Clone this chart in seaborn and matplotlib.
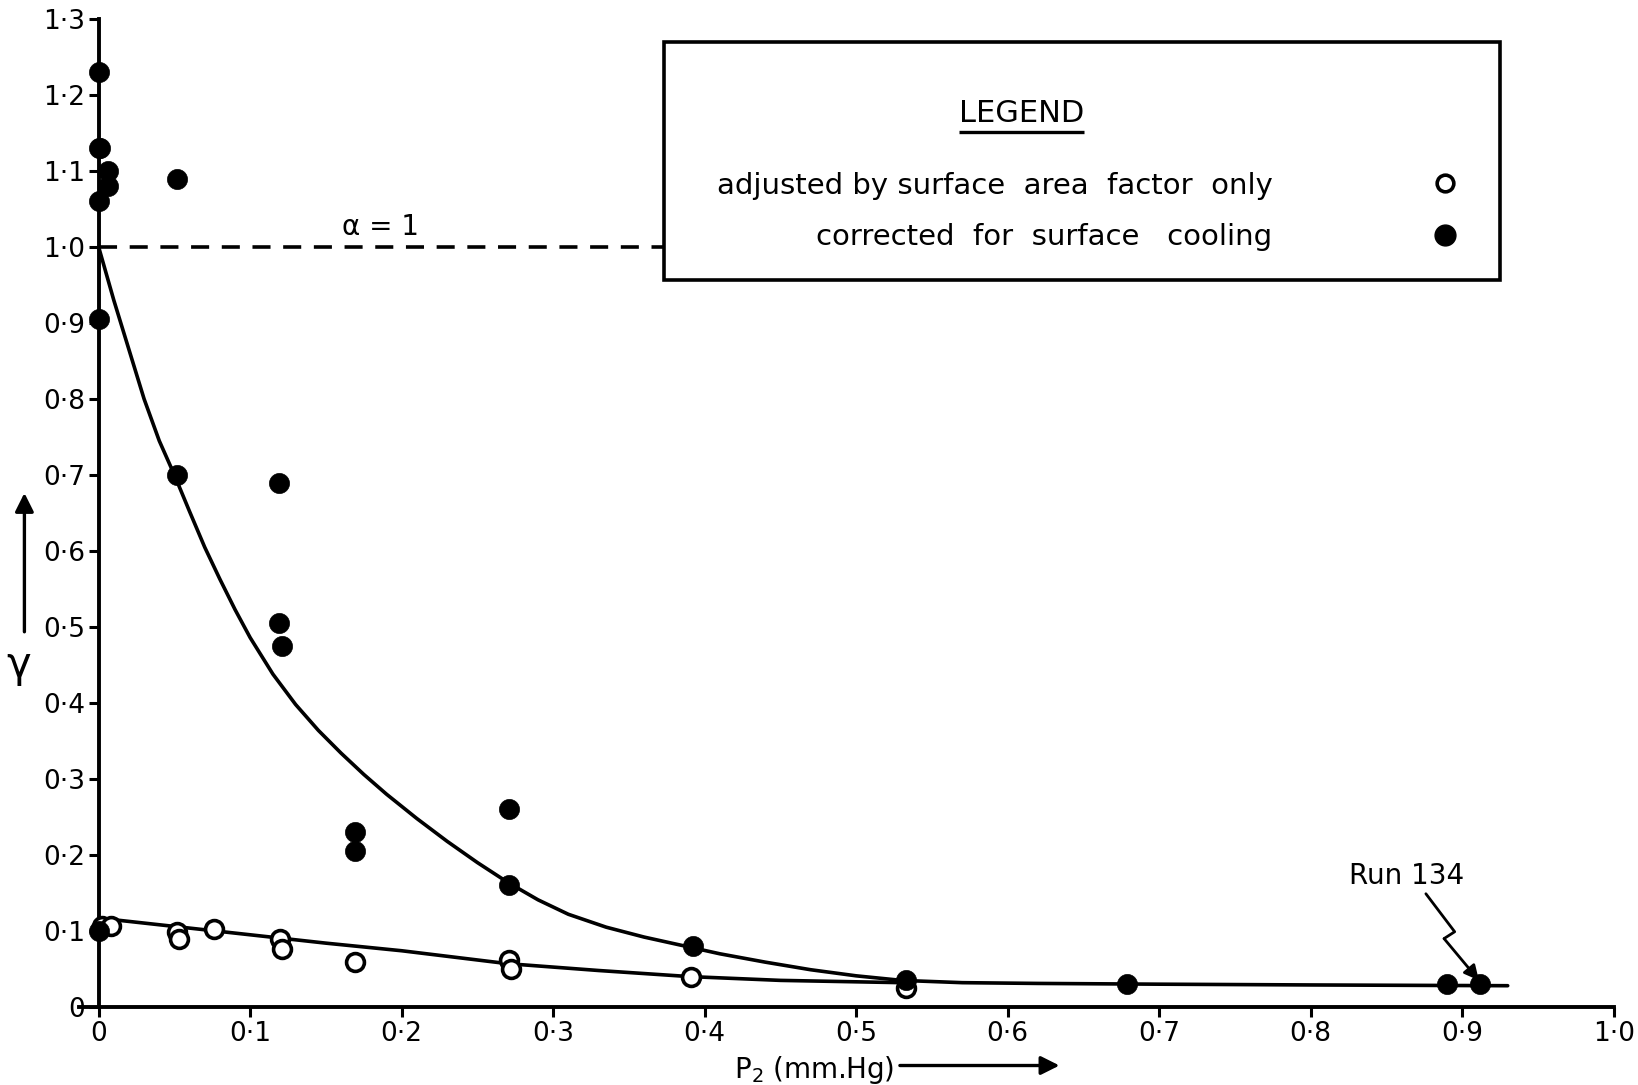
import matplotlib
matplotlib.use("Agg")
import matplotlib.pyplot as plt
import seaborn as sns
from matplotlib.patches import Rectangle
from matplotlib.lines import Line2D

# ---------------- data ----------------
# adjusted by surface area factor only (open circles)
adj_x = [0.002, 0.008, 0.052, 0.053, 0.076, 0.120, 0.121, 0.169, 0.271, 0.272, 0.391, 0.533]
adj_y = [0.107, 0.106, 0.099, 0.089, 0.103, 0.089, 0.076, 0.059, 0.062, 0.050, 0.040, 0.025]

# corrected for surface cooling (filled circles)
cor_x = [0.0, 0.0, 0.001, 0.006, 0.006, 0.0, 0.052, 0.0, 0.052, 0.119, 0.119, 0.121,
         0.169, 0.169, 0.271, 0.271, 0.392, 0.533, 0.679, 0.890, 0.912, 0.0]
cor_y = [1.23, 1.13, 1.13, 1.10, 1.08, 1.06, 1.09, 0.905, 0.70, 0.69, 0.505, 0.475,
         0.23, 0.205, 0.26, 0.16, 0.08, 0.035, 0.03, 0.03, 0.03, 0.10]

# hand-drawn curve through corrected points
cor_fit_x = [0.0, 0.01, 0.02, 0.03, 0.04, 0.05, 0.06, 0.07, 0.08, 0.09, 0.10, 0.115,
             0.13, 0.145, 0.16, 0.175, 0.19, 0.21, 0.23, 0.25, 0.27, 0.29, 0.31, 0.335,
             0.36, 0.385, 0.41, 0.44, 0.47, 0.50, 0.53, 0.57, 0.62, 0.70, 0.80, 0.93]
cor_fit_y = [1.0, 0.93, 0.865, 0.80, 0.745, 0.70, 0.652, 0.605, 0.563, 0.523, 0.486, 0.438,
             0.398, 0.364, 0.334, 0.306, 0.280, 0.248, 0.218, 0.190, 0.164, 0.141, 0.122, 0.105,
             0.092, 0.081, 0.070, 0.059, 0.049, 0.041, 0.035, 0.032, 0.031, 0.030, 0.029, 0.028]

# hand-drawn line through adjusted points
adj_fit_x = [0.0, 0.05, 0.1, 0.15, 0.2, 0.27, 0.33, 0.39, 0.45, 0.53]
adj_fit_y = [0.117, 0.106, 0.095, 0.084, 0.074, 0.057, 0.048, 0.040, 0.035, 0.032]

x_ticks = [0.0, 0.1, 0.2, 0.3, 0.4, 0.5, 0.6, 0.7, 0.8, 0.9, 1.0]
x_tick_labels = ["0", "0·1", "0·2", "0·3", "0·4", "0·5", "0·6", "0·7", "0·8", "0·9", "1·0"]
y_ticks = [0.0, 0.1, 0.2, 0.3, 0.4, 0.5, 0.6, 0.7, 0.8, 0.9, 1.0, 1.1, 1.2, 1.3]
y_tick_labels = ["0", "0·1", "0·2", "0·3", "0·4", "0·5", "0·6", "0·7", "0·8", "0·9",
                 "1·0", "1·1", "1·2", "1·3"]

alpha_ref = 1.0
legend_labels = ["adjusted by surface  area  factor  only", "corrected  for  surface   cooling"]

# Run 134 pointer path (annotation)
run_path_x = [0.876, 0.895, 0.888]
run_path_y = [0.149, 0.099, 0.090]
run_target = (0.911, 0.035)

# ---------------- style ----------------
sns.set_style("ticks", {"text.color": "black", "axes.labelcolor": "black",
                        "xtick.color": "black", "ytick.color": "black",
                        "axes.edgecolor": "black"})
plt.rcParams['font.family'] = ['DejaVu Sans']

fig = plt.figure(figsize=(16.38, 10.85), dpi=100)
ax = fig.add_axes([0.0482, 0.0719, 0.937, 0.9106])

# curves
sns.lineplot(x=cor_fit_x, y=cor_fit_y, ax=ax, color='black', lw=2.6,
             sort=False, estimator=None, zorder=3)
sns.lineplot(x=adj_fit_x, y=adj_fit_y, ax=ax, color='black', lw=2.6,
             sort=False, estimator=None, zorder=3)

# points
sns.scatterplot(x=adj_x, y=adj_y, ax=ax, marker='o', s=165, facecolor='white',
                edgecolor='black', linewidth=2.6, zorder=4, clip_on=False)
sns.scatterplot(x=cor_x, y=cor_y, ax=ax, marker='o', s=210, color='black',
                edgecolor='black', linewidth=0.5, zorder=5, clip_on=False)

ax.set_xlim(-0.013, 1.0)
ax.set_ylim(0, 1.3)

for s in ['top', 'right']:
    ax.spines[s].set_visible(False)
ax.spines['left'].set_position(('data', 0))
ax.spines['left'].set_linewidth(2.8)
ax.spines['bottom'].set_linewidth(2.8)

ax.set_xticks(x_ticks)
ax.set_xticklabels(x_tick_labels)
ax.set_yticks(y_ticks)
ax.set_yticklabels(y_tick_labels)
ax.tick_params(axis='both', direction='out', length=7, width=2.2, labelsize=19,
               colors='black', pad=3)
ax.set_xlabel("")
ax.set_ylabel("")

# legend box
box_left, box_bottom, box_right, box_top = 0.373, 0.956, 0.925, 1.27
ax.add_patch(Rectangle((box_left, box_bottom), box_right - box_left, box_top - box_bottom,
                       facecolor='white', edgecolor='black', lw=2.6, zorder=6))
# alpha = 1 dashed reference line
ax.hlines(alpha_ref, 0, box_left, colors='black', lw=2.6, linestyles=(0, (5, 3.5)), zorder=2)
ax.text(0.186, 1.026, "α = 1", ha='center', va='center', fontsize=20, zorder=7)

title = ax.text(0.609, 1.175, "LEGEND", ha='center', va='center', fontsize=22, zorder=7)

handles = [Line2D([], [], marker='o', ls='none', mfc='white', mec='black', mew=2.6, ms=12),
           Line2D([], [], marker='o', ls='none', mfc='black', mec='black', ms=15)]
leg = ax.legend(handles=handles, labels=legend_labels, markerfirst=False, frameon=False,
                loc='center right', bbox_to_anchor=(0.898, 1.047),
                bbox_transform=ax.transData, fontsize=21, handlelength=1.0,
                handletextpad=5.4, labelspacing=0.8, borderpad=0, borderaxespad=0)
leg.set_zorder(8)

# axis labels with arrows
ax.text(0.472, -0.083, "P$_2$ (mm.Hg)", ha='center', va='center', fontsize=20, clip_on=False)
ax.annotate("", xy=(0.636, -0.077), xytext=(0.527, -0.077), xycoords='data',
            arrowprops=dict(arrowstyle='-|>', lw=2.4, color='black', mutation_scale=28),
            annotation_clip=False)
ax.text(-0.053, 0.45, "γ", ha='center', va='center', fontsize=30, clip_on=False)
ax.annotate("", xy=(-0.049, 0.68), xytext=(-0.049, 0.49), xycoords='data',
            arrowprops=dict(arrowstyle='-|>', lw=2.4, color='black', mutation_scale=28),
            annotation_clip=False)

# Run 134 annotation with zig-zag pointer
ax.text(0.863, 0.172, "Run 134", ha='center', va='center', fontsize=20)
ax.plot(run_path_x, run_path_y, color='black', lw=2.0, zorder=6)
ax.annotate("", xy=run_target, xytext=(run_path_x[-1], run_path_y[-1]),
            arrowprops=dict(arrowstyle='-|>', lw=2.0, color='black', mutation_scale=22,
                            shrinkA=0, shrinkB=0), zorder=6)

# underline LEGEND title
fig.canvas.draw()
bb = title.get_window_extent().transformed(ax.transData.inverted())
ax.hlines(bb.y0 - 0.004, bb.x0, bb.x1, colors='black', lw=2.4, zorder=7)

fig.savefig("out.png", dpi=100)
